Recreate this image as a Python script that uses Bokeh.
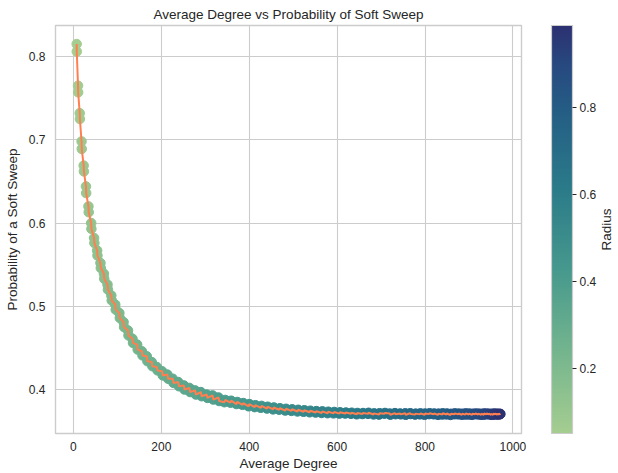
import numpy as np
from math import pi
from bokeh.plotting import figure
from bokeh.layouts import row
from bokeh.models import (ColumnDataSource, LinearColorMapper, ColorBar, FixedTicker,
                          Range1d, Label)
from bokeh.embed import file_html
from bokeh.resources import INLINE

# ---------------- data ----------------
radius = [0.05, 0.06, 0.07, 0.08, 0.09, 0.10, 0.11, 0.12, 0.13, 0.14,
          0.15, 0.16, 0.17, 0.18, 0.19, 0.20, 0.21, 0.22, 0.23, 0.24,
          0.25, 0.26, 0.27, 0.28, 0.29, 0.30, 0.31, 0.32, 0.33, 0.34,
          0.35, 0.36, 0.37, 0.38, 0.39, 0.40, 0.41, 0.42, 0.43, 0.44,
          0.45, 0.46, 0.47, 0.48, 0.49, 0.50, 0.51, 0.52, 0.53, 0.54,
          0.55, 0.56, 0.57, 0.58, 0.59, 0.60, 0.61, 0.62, 0.63, 0.64,
          0.65, 0.66, 0.67, 0.68, 0.69, 0.70, 0.71, 0.72, 0.73, 0.74,
          0.75, 0.76, 0.77, 0.78, 0.79, 0.80, 0.81, 0.82, 0.83, 0.84,
          0.85, 0.86, 0.87, 0.88, 0.89, 0.90, 0.91, 0.92, 0.93, 0.94,
          0.95, 0.96, 0.97, 0.98, 0.99]

degree_trial1 = [7.4, 10.8, 14.3, 18.9, 23.3, 29.0, 34.2, 40.9, 47.0, 54.7,
                 61.5, 70.1, 77.6, 87.1, 95.2, 105.5, 114.1, 125.3, 134.4, 146.2,
                 155.8, 168.3, 178.3, 191.4, 201.7, 215.4, 226.0, 240.1, 251.1, 265.6,
                 276.9, 291.7, 303.2, 318.3, 330.0, 345.3, 357.2, 372.7, 384.7, 400.3,
                 412.4, 428.1, 440.2, 455.9, 468.0, 483.7, 495.9, 511.5, 523.5, 539.1,
                 551.0, 566.4, 578.2, 593.4, 605.1, 620.0, 631.5, 646.1, 657.4, 671.7,
                 682.8, 696.7, 707.6, 721.1, 731.6, 744.7, 754.9, 767.5, 777.4, 789.5,
                 799.0, 810.5, 819.6, 830.6, 839.3, 849.7, 857.9, 867.7, 875.5, 884.6,
                 891.9, 900.4, 907.0, 914.9, 921.0, 928.1, 933.7, 940.1, 945.0, 950.7,
                 955.0, 960.0, 963.6, 967.8, 970.8]

degree_trial2 = [7.6, 10.5, 14.7, 18.5, 23.8, 28.5, 34.8, 40.4, 47.7, 54.0,
                 62.3, 69.4, 78.5, 86.2, 96.2, 104.5, 115.3, 124.1, 135.6, 145.0,
                 157.1, 166.9, 179.7, 189.9, 203.3, 213.8, 227.7, 238.5, 252.8, 263.9,
                 278.6, 289.9, 304.9, 316.5, 331.7, 343.5, 358.9, 370.9, 386.4, 398.5,
                 414.1, 426.3, 441.9, 454.1, 469.8, 481.9, 497.6, 509.7, 525.3, 537.3,
                 552.7, 564.6, 579.9, 591.7, 606.7, 618.3, 633.1, 644.5, 659.0, 670.2,
                 684.3, 695.3, 709.0, 719.7, 733.0, 743.4, 756.2, 766.3, 778.6, 788.3,
                 800.1, 809.4, 820.7, 829.6, 840.3, 848.8, 858.9, 866.8, 876.3, 883.8,
                 892.6, 899.6, 907.8, 914.2, 921.7, 927.5, 934.3, 939.5, 945.6, 950.2,
                 955.5, 959.5, 964.1, 967.3, 971.3]

prob_trial1 = [0.815, 0.757, 0.732, 0.689, 0.669, 0.636, 0.620, 0.593, 0.582, 0.561,
               0.552, 0.533, 0.526, 0.507, 0.502, 0.486, 0.481, 0.465, 0.461, 0.448,
               0.446, 0.434, 0.433, 0.423, 0.422, 0.413, 0.413, 0.404, 0.405, 0.397,
               0.399, 0.392, 0.394, 0.388, 0.3905, 0.3875, 0.3842, 0.3851, 0.3817, 0.3826,
               0.3789, 0.3804, 0.3772, 0.3785, 0.3758, 0.3769, 0.3744, 0.3757, 0.3733, 0.3746,
               0.3724, 0.3738, 0.3716, 0.3731, 0.3711, 0.3724, 0.3709, 0.3719, 0.3706, 0.3721,
               0.3701, 0.3716, 0.3710, 0.3698, 0.3717, 0.3702, 0.3715, 0.3706, 0.3699, 0.3714,
               0.3697, 0.3716, 0.3703, 0.3711, 0.3700, 0.3713, 0.3695, 0.3714, 0.3702, 0.3710,
               0.3699, 0.3712, 0.3696, 0.3713, 0.3701, 0.3709, 0.3698, 0.3712, 0.3703, 0.3708,
               0.3697, 0.3711, 0.3700, 0.3710, 0.3704]

prob_trial2 = [0.806, 0.765, 0.725, 0.698, 0.662, 0.644, 0.613, 0.600, 0.576, 0.567,
               0.546, 0.539, 0.520, 0.513, 0.496, 0.492, 0.475, 0.471, 0.456, 0.454,
               0.441, 0.440, 0.428, 0.427, 0.417, 0.418, 0.408, 0.409, 0.400, 0.402,
               0.394, 0.397, 0.390, 0.393, 0.3862, 0.3848, 0.3866, 0.3826, 0.3838, 0.3799,
               0.3812, 0.3781, 0.3794, 0.3762, 0.3776, 0.3748, 0.3763, 0.3737, 0.3752, 0.3727,
               0.3741, 0.3719, 0.3734, 0.3714, 0.3727, 0.3712, 0.3722, 0.3703, 0.3718, 0.3708,
               0.3714, 0.3699, 0.3719, 0.3712, 0.3704, 0.3713, 0.3697, 0.3716, 0.3711, 0.3702,
               0.3712, 0.3705, 0.3713, 0.3696, 0.3715, 0.3701, 0.3709, 0.3703, 0.3712, 0.3697,
               0.3714, 0.3700, 0.3710, 0.3704, 0.3711, 0.3697, 0.3713, 0.3702, 0.3710, 0.3696,
               0.3711, 0.3703, 0.3709, 0.3699, 0.3708]

x_ticks = [0, 200, 400, 600, 800, 1000]
y_ticks = [0.4, 0.5, 0.6, 0.7, 0.8]
cbar_ticks = [0.2, 0.4, 0.6, 0.8]

title_text = "Average Degree vs Probability of Soft Sweep"
x_label = "Average Degree"
y_label = "Probability of a Soft Sweep"
cbar_label = "Radius"

# ---------------- styling ----------------
FONT = "Liberation Sans"
TEXT = "#262626"
GRID = "#cccccc"
LINE_COLOR = "#ff7f50"
H = 473
TOP, BOTTOM = 25, 40

# crest-like colormap
stops = [(0.0, (0xa5, 0xcd, 0x90)), (0.2, (0x74, 0xb5, 0x8e)), (0.4, (0x46, 0x99, 0x8d)),
         (0.6, (0x2a, 0x7b, 0x89)), (0.8, (0x24, 0x5c, 0x84)), (0.9, (0x27, 0x4a, 0x80)),
         (1.0, (0x2c, 0x31, 0x72))]
palette = []
for t in np.linspace(0, 1, 256):
    for (t0, c0), (t1, c1) in zip(stops[:-1], stops[1:]):
        if t0 <= t <= t1:
            f = (t - t0) / (t1 - t0)
            c = [int(round(a + (b - a) * f)) for a, b in zip(c0, c1)]
            palette.append("#%02x%02x%02x" % tuple(c))
            break

deg = np.array(degree_trial1 + degree_trial2)
prob = np.array(prob_trial1 + prob_trial2)
rad = np.array(radius + radius)
order = np.argsort(deg, kind="stable")
deg, prob, rad = deg[order], prob[order], rad[order]

src = ColumnDataSource(dict(deg=deg, prob=prob, rad=rad))
mapper = LinearColorMapper(palette=palette, low=float(rad.min()), high=float(rad.max()))

xpad = 0.05 * (deg.max() - deg.min())
ypad = 0.05 * (prob.max() - prob.min())

# ---------------- main plot ----------------
p = figure(width=541, height=H, output_backend="svg", toolbar_location=None,
           x_range=Range1d(deg.min() - xpad, deg.max() + xpad),
           y_range=Range1d(prob.min() - ypad, prob.max() + ypad),
           min_border_left=55, min_border_right=20, min_border_top=TOP,
           min_border_bottom=BOTTOM, title=title_text)

p.background_fill_color = "white"
p.border_fill_color = "white"
p.outline_line_color = GRID
p.outline_line_width = 1.4

p.title.align = "center"
p.title.text_font = FONT
p.title.text_font_size = "13.5px"
p.title.text_font_style = "normal"
p.title.text_color = TEXT
p.title.standoff = 8

for ax in (p.xaxis[0], p.yaxis[0]):
    ax.axis_line_color = None
    ax.major_tick_line_color = None
    ax.minor_tick_line_color = None
    ax.major_tick_out = 0
    ax.major_tick_in = 0
    ax.minor_tick_out = 0
    ax.minor_tick_in = 0
    ax.major_label_text_font = FONT
    ax.major_label_text_font_size = "12px"
    ax.major_label_text_color = TEXT
    ax.axis_label_text_font = FONT
    ax.axis_label_text_font_size = "13.5px"
    ax.axis_label_text_font_style = "normal"
    ax.axis_label_text_color = TEXT

p.xaxis.ticker = FixedTicker(ticks=x_ticks)
p.yaxis.ticker = FixedTicker(ticks=y_ticks)
p.xaxis.axis_label = x_label
p.yaxis.axis_label = y_label
p.xaxis.major_label_standoff = 8
p.xaxis.axis_label_standoff = 2
p.yaxis.major_label_standoff = 10
p.yaxis.axis_label_standoff = 6

p.xgrid.ticker = FixedTicker(ticks=x_ticks)
p.ygrid.ticker = FixedTicker(ticks=y_ticks)
for g in (p.xgrid[0], p.ygrid[0]):
    g.grid_line_color = GRID
    g.grid_line_width = 1.1

p.scatter("deg", "prob", source=src, size=9.5,
          fill_color={"field": "rad", "transform": mapper},
          line_color={"field": "rad", "transform": mapper})
p.line(deg, prob, line_color=LINE_COLOR, line_width=2)

# ---------------- colour bar panel ----------------
cw = 618 - 541
c = figure(width=cw, height=H, output_backend="svg", toolbar_location=None,
           x_range=Range1d(0, 1), y_range=Range1d(0, 1),
           x_axis_location=None, y_axis_location=None,
           min_border_left=0, min_border_right=0, min_border_top=TOP,
           min_border_bottom=BOTTOM)
c.grid.visible = False
c.outline_line_color = None
c.background_fill_color = "white"
c.border_fill_color = "white"

frame_h = H - TOP - BOTTOM
cb = ColorBar(color_mapper=mapper, ticker=FixedTicker(ticks=cbar_ticks),
              location=(10, 0), width=21, height=frame_h, padding=0, margin=0,
              bar_line_color=GRID, bar_line_width=1.2,
              major_tick_in=0, major_tick_out=4,
              major_tick_line_color=TEXT, major_tick_line_width=1.2,
              minor_tick_line_color=None,
              major_label_text_font=FONT, major_label_text_font_size="12px",
              major_label_text_color=TEXT, label_standoff=3,
              background_fill_color=None, border_line_color=None)
c.add_layout(cb, "center")

c.add_layout(Label(x=65, y=frame_h / 2, x_units="screen", y_units="screen", text=cbar_label,
                   angle=pi / 2, text_align="center", text_baseline="middle",
                   text_font=FONT, text_font_size="13.5px", text_color=TEXT))

layout = row(p, c, spacing=0)
open("out.html", "w").write(file_html(layout, INLINE))
